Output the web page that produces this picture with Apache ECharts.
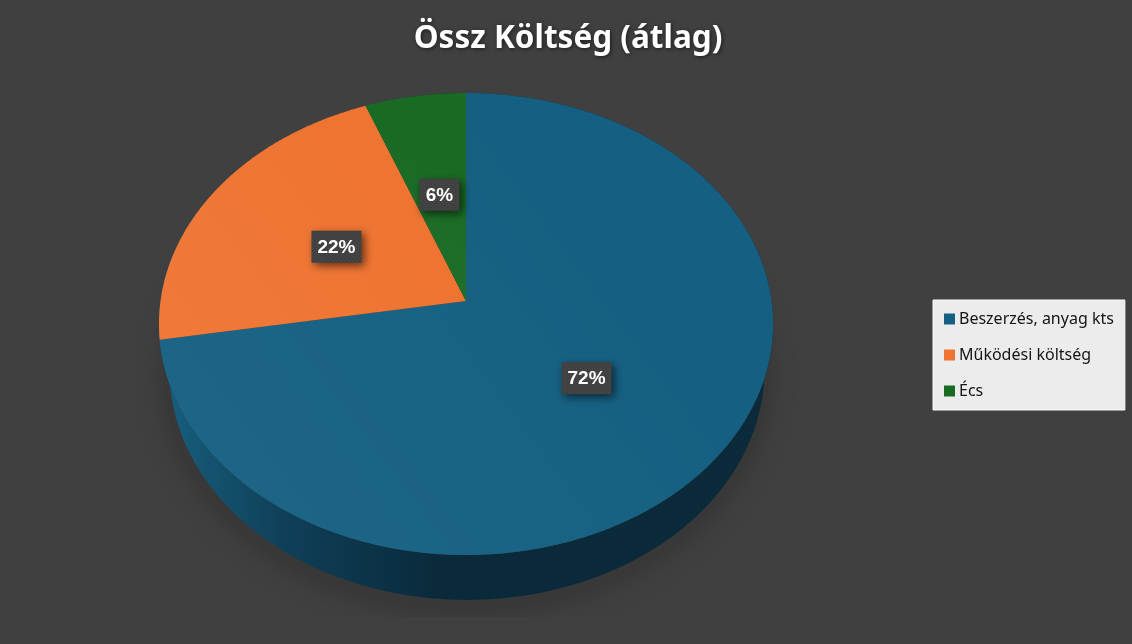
<!DOCTYPE html>
<html>
<head>
<meta charset="utf-8">
<title>Össz Költség (átlag)</title>
<script src="https://cdn.jsdelivr.net/npm/echarts@6/dist/echarts.min.js"></script>
<style>
  html,body{margin:0;padding:0;background:#404040}
  #chart{width:1132px;height:644px}
</style>
</head>
<body>
<div id="chart"></div>
<script>
  const categories = ['Beszerzés, anyag kts', 'Működési költség', 'Écs']
  const shares = [72.33, 21.82, 5.85]
  const colors = ['#156082', '#EF7432', '#196B24']
  const chartTitle = 'Össz Költség (átlag)'

  // perspektiva: korlap -> kepernyo
  const K = 0.0996
  const topPlane = { x: 466, y: 301, a: 228.7, b: 305.5 }
  const basePlane = { x: 467, y: 347, a: 227.7, b: 296 }
  const shadowPlane = { x: 466, y: 352, a: 233, b: 300 }
  const total = shares.reduce((s, v) => s + v, 0)

  function project(plane, deg, r) {
    const t = deg * Math.PI / 180
    const u = r * Math.sin(t), v = r * Math.cos(t)
    const w = 1 + K * v
    return [plane.x + plane.b * u / w, plane.y - plane.a * v / w]
  }
  function arc(plane, from, to) {
    const pts = []
    const n = Math.max(2, Math.ceil((to - from) * 2))
    for (let i = 0; i <= n; i++) pts.push(project(plane, from + (to - from) * i / n, 1))
    return pts
  }

  // label hatter mintazat
  const dots = document.createElement('canvas')
  dots.width = 4; dots.height = 4
  const dc = dots.getContext('2d')
  dc.fillStyle = '#404040'; dc.fillRect(0, 0, 4, 4)
  dc.fillStyle = '#4e4e4e'; dc.fillRect(0, 0, 1, 1); dc.fillRect(2, 2, 1, 1)

  const wallFill = {
    type: 'linear', x: 0, y: 0, x2: 1, y2: 0,
    colorStops: [
      { offset: 0, color: '#17607f' },
      { offset: 0.2, color: '#0f4059' },
      { offset: 0.45, color: '#0a2a3b' },
      { offset: 1, color: '#0b2a3a' }
    ]
  }
  // enyhe fenyes a teteje bal also reszen
  const topWash = {
    type: 'linear', x: 0, y: 1, x2: 1, y2: 0,
    colorStops: [
      { offset: 0, color: 'rgba(255,255,255,0.04)' },
      { offset: 0.7, color: 'rgba(255,255,255,0)' }
    ]
  }

  function sliceRender(index) {
    return function (params, api) {
      const value = api.value(0)
      const before = shares.slice(0, index).reduce((s, v) => s + v, 0)
      const start = before / total * 360
      const end = start + value / total * 360
      const mid = (start + end) / 2
      const top = arc(topPlane, start, end)
      const base = arc(basePlane, start, end)
      const center = project(topPlane, 0, 0)
      const lab = project(topPlane, mid, 0.5)
      const text = Math.round(value / total * 100) + '%'
      const boxW = text.length * 10 + 20
      return {
        type: 'group',
        children: [
          {
            type: 'polygon', z2: 1, silent: true,
            shape: { points: base.concat(top.slice().reverse()) },
            style: { fill: wallFill }
          },
          {
            type: 'polygon', z2: 2,
            shape: { points: [center].concat(top) },
            style: { fill: api.visual('color') }
          },
          {
            type: 'polygon', z2: 2, silent: true,
            shape: { points: [center].concat(top) },
            style: { fill: topWash }
          },
          {
            type: 'rect', z2: 3, silent: true,
            shape: { x: lab[0] - boxW / 2, y: lab[1] - 15, width: boxW, height: 32 },
            style: {
              fill: { image: dots, repeat: 'repeat' },
              shadowColor: 'rgba(0,0,0,0.6)',
              shadowBlur: 8,
              shadowOffsetX: 3,
              shadowOffsetY: 3
            }
          },
          {
            type: 'text', z2: 4, silent: true,
            style: {
              x: lab[0], y: lab[1] + 1.5,
              text: text,
              fill: '#fff',
              font: 'bold 19px "Liberation Sans", Arial, sans-serif',
              align: 'center', verticalAlign: 'middle'
            }
          }
        ]
      }
    }
  }

  // arnyek a torta alatt
  function shadowRender() {
    return {
      type: 'group',
      children: [
        {
          type: 'polygon', z2: 0, silent: true,
          shape: { points: arc(shadowPlane, 0, 360) },
          style: {
            fill: '#383838',
            shadowColor: 'rgba(0,0,0,0.22)',
            shadowBlur: 30
          }
        },
        {
          type: 'rect', z2: 0, silent: true,
          shape: { x: 0, y: 617, width: 1132, height: 27 },
          style: { fill: '#404040' }
        }
      ]
    }
  }

  const series = [{
    name: 'shadow', type: 'custom', coordinateSystem: 'none', silent: true,
    z: 1, data: [[0]], renderItem: shadowRender
  }].concat(categories.map((name, i) => ({
    name: name,
    type: 'custom',
    coordinateSystem: 'none',
    z: 2,
    itemStyle: { color: colors[i] },
    data: [[shares[i]]],
    renderItem: sliceRender(i)
  })))

  const chart = echarts.init(document.getElementById('chart'))
  chart.setOption({
    animation: false,
    backgroundColor: '#404040',
    title: {
      text: chartTitle,
      left: 563, top: 18, textAlign: 'center',
      textStyle: {
        color: '#fff', fontSize: 31.5, fontWeight: 'bold',
        fontFamily: '"Noto Sans", sans-serif',
        textShadowColor: 'rgba(0,0,0,0.6)', textShadowBlur: 4,
        textShadowOffsetX: 1, textShadowOffsetY: 1
      }
    },
    legend: {
      data: categories,
      orient: 'vertical',
      left: 933, top: 300,
      align: 'left',
      icon: 'rect',
      itemWidth: 11, itemHeight: 11,
      itemGap: 20,
      padding: [11, 11, 11, 11],
      backgroundColor: '#ececec',
      borderColor: '#fafafa', borderWidth: 1,
      selectedMode: false,
      textStyle: {
        color: '#141414', fontSize: 16,
        fontFamily: '"Noto Sans", sans-serif',
        padding: [0, 0, 0, -1]
      }
    },
    series: series
  })
</script>
</body>
</html>
